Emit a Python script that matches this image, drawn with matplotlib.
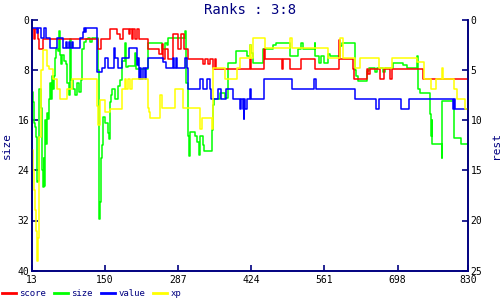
import matplotlib
matplotlib.use("Agg")
import matplotlib.pyplot as plt

NAVY = "#000080"

# ---------------- data ----------------
# left axis: size
size_x = [13, 14, 16, 17, 19, 20, 21, 22, 23, 25, 26, 27, 29, 32, 33, 35, 36, 38, 40, 42,
          43, 45, 47, 49, 51, 53, 55, 57, 58, 62, 64, 65, 68, 70, 73, 77, 79, 83, 85, 86,
          90, 94, 98, 101, 105, 107, 111, 115, 118, 122, 126, 136, 138, 139, 141, 142, 143, 144, 146, 150,
          156, 158, 159, 161, 163, 169, 174, 178, 182, 187, 189, 193, 206, 208, 230, 257, 262, 266, 268, 300,
          302, 306, 308, 309, 319, 322, 326, 328, 333, 335, 350, 352, 354, 365, 374, 380, 395, 415, 421, 424,
          427, 446, 465, 471, 496, 512, 518, 520, 543, 544, 550, 555, 560, 568, 571, 590, 593, 618, 621, 624,
          640, 645, 655, 660, 670, 675, 689, 708, 715, 734, 736, 740, 758, 760, 762, 763, 781, 782, 804, 817,
          830]
size_y = [11.5, 13, 15.8, 16.4, 17, 17.8, 18.6, 20.5, 25.8, 25.7, 14, 11, 14, 24, 26.7, 22, 26.5, 16, 19.8, 14.8,
          15.8, 12.6, 10, 12.6, 9, 11, 9, 6, 4.6, 5, 1.7, 5.5, 7, 5.5, 6.5, 7, 10, 12, 3, 9.5,
          11, 12, 10, 11.5, 9.5, 4.6, 3.5, 3, 2.8, 3.5, 2.8, 8, 30.2, 31.8, 29, 25, 22, 20, 15.5, 16.5,
          18, 19, 13, 12, 11, 12.6, 10.5, 9.5, 6.5, 3.6, 7.5, 7.3, 5.2, 7.8, 3.6, 4.6, 3.6, 4, 2.8, 1.7,
          10, 18.5, 21.7, 17.8, 18.5, 19.5, 21.5, 18.5, 20, 20.9, 17.5, 13.5, 12.6, 11.6, 12.5, 6.8, 4.9, 5.7, 4.0, 5.2,
          6.8, 4.6, 4.0, 3.7, 5.7, 4.6, 3.7, 4.6, 3.7, 5.7, 6.8, 5.7, 6.8, 5.4, 5.7, 4.2, 3.7, 8.0, 9.0, 9.7,
          8.2, 7.7, 8.3, 7.7, 8.3, 7.7, 6.8, 7.2, 7.7, 5.8, 11.0, 11.7, 15, 18.5, 16, 19.8, 22, 12.9, 18.8, 19.8,
          19.8]

# right axis: rest
score_x = [13, 16, 19, 25, 27, 33, 137, 142, 159, 172, 178, 184, 194, 197, 200, 203, 206, 209, 214, 231,
           251, 257, 259, 262, 268, 278, 287, 293, 298, 306, 334, 338, 342, 346, 352, 355, 358, 421, 424, 447,
           449, 481, 484, 496, 518, 543, 589, 591, 614, 616, 640, 643, 646, 666, 673, 684, 687, 745, 830]
score_y = [0.85, 1.85, 0.85, 1.85, 2.85, 1.85, 2.85, 1.85, 0.85, 1.35, 1.85, 0.85, 1.35, 0.85, 1.85, 0.85, 1.85, 0.85, 1.85, 2.85,
           3.35, 2.35, 3.85, 2.85, 3.85, 1.35, 2.85, 1.35, 2.85, 3.85, 4.35, 3.85, 4.35, 3.85, 4.85, 3.85, 4.85, 3.85, 4.85, 2.85,
           3.85, 4.85, 3.85, 4.85, 3.85, 4.85, 2.0, 3.85, 4.85, 5.85, 4.85, 5.35, 4.85, 5.85, 4.85, 5.85, 4.85, 5.85, 5.85]

value_x = [13, 22, 25, 29, 35, 40, 46, 60, 72, 76, 78, 82, 84, 88, 90, 103, 109, 111, 113, 114,
           135, 144, 150, 156, 166, 169, 175, 181, 194, 209, 211, 213, 215, 218, 221, 224, 227, 231, 259, 265,
           278, 280, 282, 284, 300, 303, 306, 328, 334, 340, 346, 349, 362, 368, 377, 390, 403, 405, 408, 410,
           411, 413, 415, 421, 424, 447, 501, 541, 545, 618, 657, 663, 705, 720, 801, 803, 805, 830]
value_y = [0.83, 1.33, 0.83, 1.83, 0.83, 1.83, 2.83, 1.83, 2.83, 2.2, 2.83, 2.2, 2.83, 2.2, 2.83, 1.83, 1.2, 0.83, 1.2, 0.83,
           5.2, 4.83, 3.83, 4.83, 2.83, 3.83, 4.83, 3.83, 2.83, 4.5, 3.83, 5.83, 4.83, 5.83, 4.83, 5.83, 4.83, 3.83, 4.2, 4.83,
           3.83, 4.83, 3.83, 4.83, 3.83, 4.83, 6.83, 5.83, 6.83, 5.83, 6.83, 7.83, 6.83, 7.83, 6.83, 7.83, 8.83, 7.83, 8.83, 9.9,
           7.83, 8.83, 7.83, 6.83, 7.83, 5.83, 6.83, 5.83, 6.83, 7.83, 8.83, 7.83, 8.83, 7.83, 8.83, 7.83, 8.83, 8.83]

xp_x = [13, 15, 17, 18.5, 20, 21.5, 23, 25, 26, 27, 29, 33, 41, 45, 53, 60, 66, 78, 88, 134,
        137, 140, 150, 159, 181, 187, 189, 193, 196, 200, 231, 233, 235, 253, 257, 281, 296, 328, 332, 350,
        353, 375, 397, 403, 421, 424, 427, 449, 496, 500, 567, 590, 595, 618, 627, 664, 687, 735, 748, 761,
        770, 781, 783, 804, 810, 825, 830]
xp_y = [13, 15, 17, 19, 21, 22.5, 24, 21.7, 19.4, 11.7, 5, 3, 4.6, 4.9, 5.9, 6.9, 7.9, 6.9, 5.83, 8.6,
        10.5, 8.0, 9.2, 8.9, 6.85, 5.85, 6.85, 5.85, 6.85, 5.85, 8.8, 9.2, 9.8, 7.5, 8.8, 6.83, 8.8, 10.9, 9.8, 10.9,
        4.83, 5.83, 4.83, 3.83, 2.5, 3.83, 1.83, 2.83, 1.83, 2.83, 3.83, 1.83, 3.83, 4.83, 3.83, 4.83, 3.83, 4.2, 5.83, 6.83,
        5.83, 4.83, 5.83, 6.83, 7.83, 8.83, 8.83]

x_ticks = [13, 150, 287, 424, 561, 698, 830]
size_ticks = [0, 8, 16, 24, 32, 40]
rest_ticks = [0, 5, 10, 15, 20, 25]

# ---------------- plot ----------------
fig = plt.figure(figsize=(5, 3), dpi=100)
ax = fig.add_axes([0.064, 0.098, 0.872, 0.835])
ax2 = ax.twinx()

ls_size, = ax.step(size_x, size_y, where="post", color="#00ff00", lw=1.1)
ls_score, = ax2.step(score_x, score_y, where="post", color="#ff0000", lw=1.1)
ls_value, = ax2.step(value_x, value_y, where="post", color="#0000ff", lw=1.1)
ls_xp, = ax2.step(xp_x, xp_y, where="post", color="#ffff00", lw=1.1)

ax.set_xlim(13, 830)
ax.set_ylim(40, 0)
ax2.set_ylim(25, 0)
ax.set_xticks(x_ticks)
ax.set_yticks(size_ticks)
ax2.set_yticks(rest_ticks)

mono = "DejaVu Sans Mono"
for a in (ax, ax2):
    for s in a.spines.values():
        s.set_color(NAVY)
        s.set_linewidth(1.2)
    a.spines["top"].set_visible(False)
    a.tick_params(direction="in", length=4, width=1.2, color=NAVY,
                  labelsize=7, labelcolor="black", pad=2)
    for lbl in a.get_xticklabels() + a.get_yticklabels():
        lbl.set_family(mono)
ax.tick_params(axis="x", pad=3)

ax.set_ylabel("size", color=NAVY, fontsize=8, family=mono, labelpad=4)
ax2.set_ylabel("rest", color=NAVY, fontsize=8, family=mono, labelpad=6)
fig.text(0.5, 0.965, "Ranks : 3:8", ha="center", va="center",
         color=NAVY, fontsize=10, family=mono)

leg = fig.legend([ls_score, ls_size, ls_value, ls_xp], ["score", "size", "value", "xp"],
                 loc="lower left", bbox_to_anchor=(-0.012, -0.02), ncol=4, frameon=False,
                 handlelength=1.5, handletextpad=0.4, columnspacing=0.9,
                 prop={"family": mono, "size": 6.5})
for t in leg.get_texts():
    t.set_color(NAVY)
for h in leg.get_lines():
    h.set_linewidth(2)

fig.savefig("out.png", dpi=100)
